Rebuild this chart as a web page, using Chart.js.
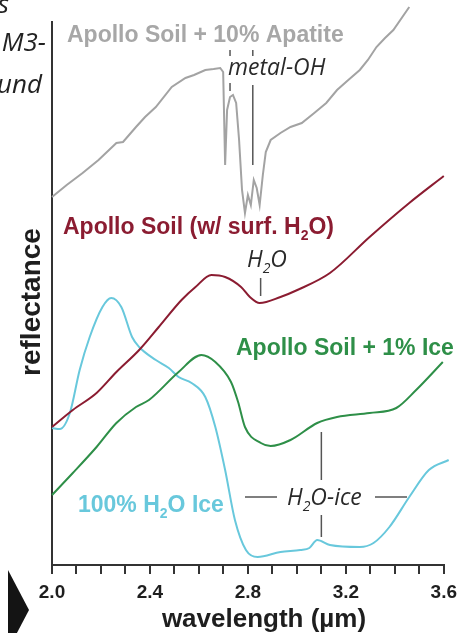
<!DOCTYPE html>
<html>
<head>
<meta charset="utf-8">
<script src="https://cdn.jsdelivr.net/npm/chart.js@4.4.0/dist/chart.umd.min.js"></script>
<style>
  html, body { margin: 0; padding: 0; background: #fff; }
  #wrap { width: 464px; height: 633px; position: relative; }
</style>
</head>
<body>
<div id="wrap"><canvas id="chart"></canvas></div>
<script>
// wavelength (um) and relative reflectance
const apatiteWl = [2.000, 2.06, 2.125, 2.19, 2.263, 2.29, 2.343, 2.38, 2.424, 2.489, 2.545, 2.58, 2.626, 2.66, 2.687, 2.699, 2.707, 2.715, 2.727, 2.739, 2.752, 2.764, 2.776, 2.788, 2.800, 2.812, 2.824, 2.836, 2.848, 2.861, 2.873, 2.893, 2.933, 2.974, 3.02, 3.071, 3.12, 3.164, 3.21, 3.257, 3.29, 3.325, 3.36, 3.394, 3.459];
const apatiteRefl = [3.68, 3.80, 3.92, 4.05, 4.22, 4.23, 4.38, 4.48, 4.58, 4.78, 4.87, 4.90, 4.95, 4.96, 4.97, 4.93, 4.00, 4.55, 4.68, 4.70, 4.62, 4.25, 3.75, 3.52, 3.70, 3.60, 3.85, 3.77, 3.60, 3.90, 4.13, 4.25, 4.32, 4.38, 4.42, 4.52, 4.62, 4.75, 4.85, 4.95, 5.05, 5.18, 5.27, 5.35, 5.58];

const soilWl = [2.000, 2.085, 2.182, 2.263, 2.356, 2.436, 2.529, 2.586, 2.651, 2.707, 2.772, 2.808, 2.848, 2.933, 3.002, 3.135, 3.297, 3.459, 3.600];
const soilRefl = [1.38, 1.55, 1.72, 1.93, 2.15, 2.38, 2.65, 2.78, 2.90, 2.88, 2.78, 2.68, 2.62, 2.68, 2.75, 2.92, 3.28, 3.62, 3.89];

const iceMixWl = [2.000, 2.085, 2.182, 2.263, 2.343, 2.396, 2.517, 2.610, 2.667, 2.731, 2.760, 2.788, 2.853, 2.893, 2.974, 3.083, 3.164, 3.297, 3.406, 3.487, 3.596];
const iceMixRefl = [0.70, 0.92, 1.18, 1.42, 1.58, 1.65, 1.93, 2.10, 2.03, 1.83, 1.63, 1.38, 1.22, 1.19, 1.25, 1.42, 1.48, 1.52, 1.57, 1.75, 2.03];

const iceWl = [2.000, 2.032, 2.073, 2.113, 2.154, 2.206, 2.242, 2.283, 2.327, 2.356, 2.424, 2.477, 2.517, 2.570, 2.626, 2.667, 2.707, 2.747, 2.792, 2.840, 2.933, 3.014, 3.051, 3.083, 3.135, 3.257, 3.313, 3.378, 3.459, 3.539, 3.620];
const iceRefl = [1.37, 1.36, 1.52, 1.95, 2.28, 2.58, 2.67, 2.58, 2.28, 2.18, 2.05, 1.97, 1.88, 1.82, 1.68, 1.38, 0.95, 0.45, 0.15, 0.08, 0.13, 0.15, 0.17, 0.25, 0.20, 0.18, 0.22, 0.38, 0.68, 0.95, 1.05];

const xMin = 2.0, xMax = 3.6;

const SANS = '"Liberation Sans", Arial, sans-serif';
const ITAL = '"Open Sans", "Noto Sans", sans-serif';

const pts = (wl, r) => wl.map((w, i) => ({ x: w, y: r[i] }));

// text with subscript parts: [[text, isSub], ...]
function rich(ctx, parts, x, y, size, style, color) {
  ctx.fillStyle = color;
  ctx.textAlign = 'left';
  ctx.textBaseline = 'alphabetic';
  parts.forEach(([t, sub]) => {
    const s = sub ? Math.round(size * 0.62) : size;
    ctx.font = style + ' ' + s + 'px ' + (style.includes('italic') ? ITAL : SANS);
    ctx.fillText(t, x, y + (sub ? size * 0.28 : 0));
    x += ctx.measureText(t).width;
  });
}

function seg(ctx, x1, y1, x2, y2) {
  ctx.beginPath();
  ctx.moveTo(x1, y1);
  ctx.lineTo(x2, y2);
  ctx.stroke();
}

const notes = {
  id: 'notes',
  afterDatasetsDraw(chart) {
    const { ctx } = chart;
    const x = chart.scales.x;
    ctx.save();

    // series labels
    rich(ctx, [['Apollo Soil + 10% Apatite']], 67, 42, 23, 'bold', '#a7a7a7');
    rich(ctx, [['Apollo Soil (w/ surf. H'], ['2', true], ['O)']], 63, 234, 23, 'bold', '#8b1c31');
    rich(ctx, [['Apollo Soil + 1% Ice']], 236, 355, 23, 'bold', '#2e8f48');
    rich(ctx, [['100% H'], ['2', true], ['O Ice']], 78, 512, 23, 'bold', '#68c8dc');

    // band annotations
    ctx.strokeStyle = '#555';
    ctx.lineWidth = 1.5;
    rich(ctx, [['metal-OH']], 228, 75, 23, 'italic', '#2a2a2a');
    const m1 = x.getPixelForValue(2.727), m2 = x.getPixelForValue(2.82);
    seg(ctx, m1, 50, m1, 56);
    seg(ctx, m1, 83, m1, 91);
    seg(ctx, m2, 50, m2, 56);
    seg(ctx, m2, 85, m2, 165);

    rich(ctx, [['H'], ['2', true], ['O']], 247, 267, 23, 'italic', '#2a2a2a');
    const h = x.getPixelForValue(2.852);
    seg(ctx, h, 278, h, 296);

    rich(ctx, [['H'], ['2', true], ['O-ice']], 287, 505, 23, 'italic', '#2a2a2a');
    const ic = x.getPixelForValue(3.1);
    seg(ctx, 245, 497, 277, 497);
    seg(ctx, 375, 497, 407, 497);
    seg(ctx, ic, 432, ic, 480);
    seg(ctx, ic, 515, ic, 537);

    ctx.restore();
  },
  afterDraw(chart) {
    const { ctx } = chart;
    ctx.save();
    ctx.fillStyle = '#1e1e1e';
    ctx.textAlign = 'center';
    ctx.textBaseline = 'alphabetic';

    // axis titles
    ctx.font = 'bold 26px ' + SANS;
    ctx.fillText('wavelength (\u00b5m)', 264, 627);
    ctx.save();
    ctx.translate(40, 302);
    ctx.rotate(-Math.PI / 2);
    ctx.font = 'bold 28px ' + SANS;
    ctx.fillText('reflectance', 0, 0);
    ctx.restore();

    // cut-off text from the neighbouring panel
    ctx.textAlign = 'right';
    ctx.fillStyle = '#222';
    ctx.font = 'italic 26px ' + ITAL;
    ctx.fillText('s', 9, 13);
    ctx.fillText('M3-', 46, 51);
    ctx.fillText('und', 42, 93);

    // arrow marker
    ctx.fillStyle = '#141414';
    ctx.beginPath();
    ctx.moveTo(8, 570);
    ctx.lineTo(29, 610);
    ctx.lineTo(8, 650);
    ctx.closePath();
    ctx.fill();
    ctx.restore();
  }
};

new Chart(document.getElementById('chart'), {
  type: 'line',
  data: {
    datasets: [
      { label: 'Apollo Soil + 10% Apatite', data: pts(apatiteWl, apatiteRefl), borderColor: '#a3a3a3', borderWidth: 2, tension: 0, clip: false },
      { label: 'Apollo Soil (w/ surf. H2O)', data: pts(soilWl, soilRefl), borderColor: '#8b1c31', borderWidth: 2, cubicInterpolationMode: 'monotone', clip: false },
      { label: 'Apollo Soil + 1% Ice', data: pts(iceMixWl, iceMixRefl), borderColor: '#2e8f48', borderWidth: 2, cubicInterpolationMode: 'monotone', clip: false },
      { label: '100% H2O Ice', data: pts(iceWl, iceRefl), borderColor: '#68c8dc', borderWidth: 2, cubicInterpolationMode: 'monotone', clip: false }
    ]
  },
  options: {
    responsive: true,
    maintainAspectRatio: false,
    animation: false,
    layout: { padding: { top: 22, right: 16, left: 0, bottom: 0 } },
    elements: { point: { radius: 0 } },
    plugins: { legend: { display: false }, tooltip: { enabled: false } },
    scales: {
      x: {
        type: 'linear',
        min: xMin,
        max: xMax,
        afterFit: (s) => { s.height = 68; },
        border: { display: true, color: '#333', width: 2 },
        grid: { drawOnChartArea: false, drawTicks: true, tickLength: 9, color: '#333', tickColor: '#333', lineWidth: 2 },
        ticks: {
          stepSize: 0.1,
          autoSkip: false,
          maxRotation: 0,
          padding: 7,
          color: '#1e1e1e',
          font: { family: SANS, size: 19, weight: 'bold' },
          callback: (v) => (Math.round(v * 10) % 4 === 0 ? v.toFixed(1) : '')
        }
      },
      y: {
        min: 0,
        max: 5.43,
        afterFit: (s) => { s.width = 52; },
        border: { display: true, color: '#333', width: 2 },
        grid: { display: false },
        ticks: { display: false }
      }
    }
  },
  plugins: [notes]
});
</script>
</body>
</html>
